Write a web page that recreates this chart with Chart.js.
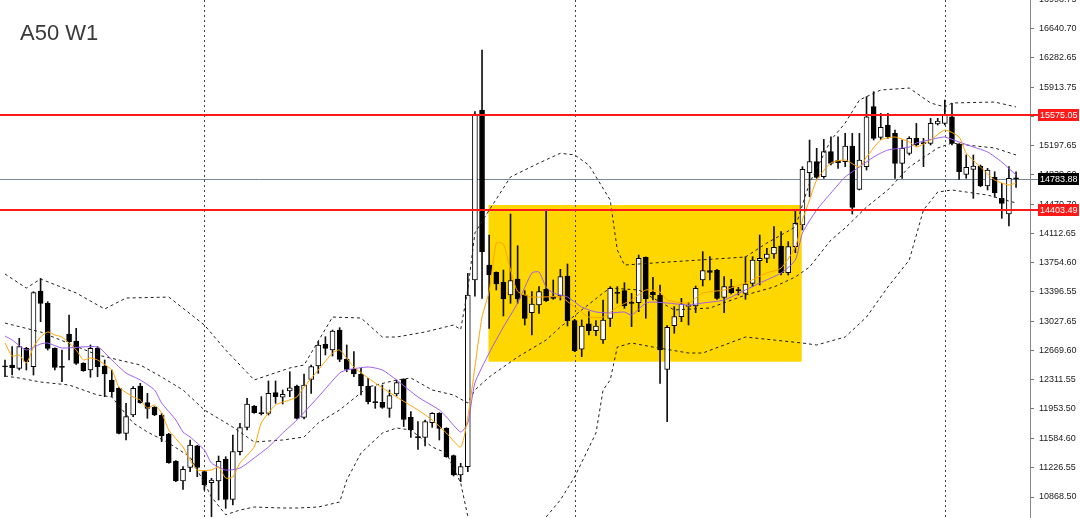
<!DOCTYPE html>
<html>
<head>
<meta charset="utf-8">
<script src="https://cdn.jsdelivr.net/npm/chart.js@4.4.1/dist/chart.umd.min.js"></script>
<style>
  html, body { margin: 0; padding: 0; background: #fff; }
  canvas { display: block; }
</style>
</head>
<body>
<canvas id="chart" width="1080" height="518"></canvas>
<script>
// weekly candles, index 0 = oldest visible bar
const opens = [12480,12494,12452,12699,12473,13404,13253,12699,12475,12875,
  12789,12514,12432,12699,12481,12309,12206,11652,11878,12235,
  12030,11972,11878,11644,11308,11066,11234,11497,11181,11045,
  11066,11332,10840,11427,11726,11989,11905,11899,12153,12096,
  12173,12235,11849,12317,12481,12748,12678,12924,12567,12444,
  12383,12235,12036,12034,11960,12137,12317,11849,11606,11603,
  11784,11899,11714,11378,11140,11242,13540,15633,13725,13634,
  13511,13355,13552,13355,13138,13232,13425,13335,13343,13589,
  13040,12687,12999,12916,12802,13068,13380,13409,13257,13261,
  13819,13388,13355,12440,12978,13089,13216,13220,13540,13655,
  13663,13327,13458,13417,13376,13499,13778,13806,13860,13958,
  13630,13950,14217,14861,14997,14812,15120,15009,14997,15189,
  14656,14935,15674,15296,15448,15345,14976,15099,15284,15222,
  15222,15460,15468,15550,15214,14841,14902,14943,14697,14804,
  14545,14352,14790];
const highs = [12555,12719,12822,12711,13396,13560,13273,12705,12678,13109,
  12945,12522,12740,12719,12555,12432,12215,12022,12227,12268,
  12145,11981,11899,11652,11316,11242,11570,11505,11193,11099,
  11373,11365,11632,11775,12083,11995,12104,12297,12297,12186,
  12411,12247,12383,12494,12781,12842,12924,12953,12740,12658,
  12452,12329,12227,12247,12186,12309,12325,11919,11796,11817,
  11907,11907,11722,11386,11283,13622,15612,16371,14094,13640,
  13663,14352,13962,13409,13396,13458,14402,13540,13671,13737,
  13056,13048,13150,13040,13294,13458,13458,13507,13376,13847,
  13825,13573,13478,12978,13212,13314,13261,13466,13889,13827,
  13671,13581,13548,13450,13827,13827,14094,13930,14197,14135,
  14012,14393,14935,15263,15161,15271,15304,15304,15345,15345,
  15345,15797,15858,15591,15591,15386,15263,15304,15468,15284,
  15530,15530,15755,15714,15220,15079,15079,14955,14914,14873,
  14730,14935,14873];
const lows = [12350,12370,12432,12432,12370,13027,12678,12432,12288,12555,
  12500,12416,12342,12350,12104,12104,11644,11570,11858,12022,
  11837,11870,11550,11283,11058,10963,11181,11119,10955,10627,
  10832,10729,10770,11386,11693,11899,11878,11878,12022,12013,
  12104,11829,11829,12145,12391,12617,12604,12535,12411,12350,
  12124,12013,11960,11960,11849,12112,11735,11603,11455,11496,
  11726,11570,11357,11127,11057,11180,13340,13314,12945,13417,
  13097,13253,13253,12986,12863,13130,13273,13302,13294,12974,
  12658,12596,12863,12855,12760,12966,13253,13191,12966,13150,
  13068,13294,12268,11796,12884,13027,12986,13138,13466,13540,
  13302,13138,13368,13355,13302,13458,13478,13753,13806,13601,
  13601,13876,14155,14566,14791,14791,14956,14914,14935,14352,
  14648,14894,15263,15271,15284,14791,14791,15079,15189,14935,
  15202,15448,15448,15202,14779,14791,14545,14689,14648,14558,
  14299,14205,14681];
const closes = [12470,12461,12719,12535,13384,13253,12699,12465,12465,12781,
  12514,12424,12699,12473,12383,12165,11652,11858,12206,12030,
  11960,11878,11624,11291,11066,11209,11509,11234,11016,11078,
  11308,10840,11427,11722,12013,11907,11895,12145,12104,12132,
  12214,11837,12247,12473,12740,12699,12912,12563,12440,12383,
  12235,12042,12030,11972,12116,12276,11825,11694,11600,11796,
  11899,11714,11365,11140,11242,13355,15583,13889,13602,13491,
  13306,13532,13306,13068,13245,13396,13286,13314,13581,13040,
  12670,12974,12916,12974,13048,13437,13375,13224,13253,13806,
  13310,13355,12678,12957,13089,13245,13224,13437,13655,13634,
  13314,13458,13384,13409,13491,13786,13806,13860,13942,13630,
  13950,14237,14902,14997,14804,15120,14976,14984,15189,14434,
  15017,15550,15284,15419,15304,14976,15161,15284,15202,15218,
  15468,15497,15571,15222,14873,14927,14943,14697,14894,14615,
  14484,14791,14784];

// indicator lines: [bar index, price]
const maFast = [[0,12764],[1,12604],[2,12616],[3,12518],[4,12715],[5,12838],[6,12900],[7,12863],[8,12838],[10,12678],
  [11,12555],[12,12580],[13,12555],[15,12432],[16,12223],[18,12100],[19,12063],[20,11964],[21,12001],[22,11903],
  [23,11693],[25,11484],[26,11324],[27,11201],[29,11201],[30,11238],[31,11102],[32,11115],[33,11287],[35,11484],
  [36,11780],[38,12001],[40,12063],[41,12100],[42,12223],[44,12432],[46,12641],[47,12678],[49,12469],[52,12272],
  [55,12100],[58,11940],[60,11816],[62,11656],[64,11484],[65,11853],[66,12469],[67,13084],[68,13401],[69,13995],
  [70,13983],[71,13663],[72,13401],[74,13330],[78,13330],[80,13207],[82,13084],[84,13084],[86,13207],[88,13294],
  [90,13417],[92,13392],[93,13294],[96,13257],[98,13380],[101,13417],[104,13503],[107,13626],[109,13687],[111,13946],
  [112,14278],[113,14525],[114,14771],[116,14980],[118,15017],[120,14931],[121,15054],[123,15263],[125,15300],[127,15239],
  [128,15177],[130,15263],[132,15386],[134,15300],[135,15103],[137,14931],[139,14771],[141,14709],[142,14734]];
const maSlow = [[0,12850],[1,12801],[3,12678],[5,12752],[6,12764],[8,12703],[13,12715],[15,12555],[17,12395],[19,12309],
  [21,12186],[22,12026],[24,11816],[25,11669],[26,11607],[28,11447],[29,11287],[31,11201],[33,11225],[35,11349],
  [37,11484],[39,11656],[41,11816],[44,12100],[47,12395],[48,12432],[51,12469],[53,12432],[55,12309],[58,12100],
  [61,11940],[62,11853],[64,11669],[65,11779],[66,12272],[68,12641],[70,12961],[72,13257],[74,13626],[75,13638],
  [76,13454],[77,13380],[79,13330],[81,13207],[83,13146],[85,13134],[87,13146],[88,13109],[90,13257],[91,13269],
  [93,13257],[96,13232],[98,13257],[101,13294],[104,13417],[106,13503],[109,13626],[111,13786],[112,14118],[114,14402],
  [116,14611],[118,14808],[120,14931],[122,15054],[124,15140],[127,15177],[128,15226],[131,15288],[132,15300],[134,15239],
  [136,15177],[138,15116],[140,14992],[142,14832]];
const bbUpper = [[0,13614],[3,13441],[5,13552],[10,13380],[14,13183],[17,13318],[23,13330],[28,12986],[31,12678],[35,12309],
  [40,12457],[42,12493],[46,13084],[50,13072],[53,12838],[55,12838],[59,12900],[63,12986],[64,12930],[65,13420],
  [66,14120],[68,14400],[71,14808],[75,14980],[78,15100],[80,15080],[82,14955],[85,14525],[86,13909],[87,13724],
  [91,13749],[104,13823],[107,13995],[111,14192],[113,14734],[116,15263],[118,15472],[120,15756],[123,15879],[127,15903],
  [130,15719],[132,15670],[133,15719],[139,15731],[142,15670]];
const bbMiddle = [[0,13010],[5,12900],[13,12617],[19,12493],[22,12346],[25,12186],[28,11940],[32,11730],[35,11546],[39,11570],
  [42,11607],[44,11780],[47,11940],[51,12223],[55,12309],[57,12334],[60,12186],[63,12124],[65,12026],[66,12186],
  [68,12346],[72,12592],[76,12801],[78,12961],[81,13171],[84,13380],[85,13441],[89,13417],[94,13171],[99,13195],
  [104,13355],[108,13454],[111,13577],[113,13700],[116,14032],[118,14180],[121,14438],[124,14648],[127,14931],[131,15165],
  [133,15226],[135,15202],[139,15165],[142,15079]];
const bbLower = [[0,12358],[2,12333],[5,12284],[9,12247],[13,12124],[15,12100],[18,11780],[20,11669],[23,11533],[26,11361],
  [28,11041],[29,10868],[31,10650],[33,10708],[35,10745],[39,10733],[41,10733],[44,10745],[47,10807],[48,11078],
  [50,11410],[53,11656],[55,11718],[57,11693],[60,11484],[62,11410],[64,11041],[65,10630],[66,10250],[68,10290],
  [72,10380],[76,10622],[78,10832],[80,11115],[83,11656],[84,12186],[85,12309],[86,12715],[88,12764],[91,12715],
  [96,12641],[98,12641],[104,12838],[112,12764],[114,12740],[118,12838],[121,13084],[124,13454],[127,13786],[129,14402],
  [131,14623],[133,14648],[135,14623],[138,14586],[142,14488]];

const priceTicks = [16998.75,16640.70,16282.65,15913.75,15555.70,15197.65,14839.60,14470.70,14112.65,
  13754.60,13396.55,13027.65,12669.60,12311.55,11953.50,11584.60,11226.55,10868.50];
const resistance = 15575.05;
const support = 14403.49;
const bid = 14783.88;
const yearStarts = [28, 80, 132];
const zoneBars = [67.9, 111.9];
const zonePrices = [12534, 14463];
const chartTitle = "A50 W1";

const pts = arr => arr.map(([i, p]) => ({ x: i, y: p }));
const bull = i => closes[i] >= opens[i];
const labelFont = '9px "Liberation Sans", Arial, sans-serif';

const overlay = {
  id: "overlay",
  beforeDatasetsDraw(chart) {
    const { ctx, chartArea: a, scales: { x, y } } = chart;
    ctx.save();
    ctx.fillStyle = "#FFD700";
    const x1 = x.getPixelForValue(zoneBars[0]), x2 = x.getPixelForValue(zoneBars[1]);
    const y1 = y.getPixelForValue(zonePrices[1]), y2 = y.getPixelForValue(zonePrices[0]);
    ctx.fillRect(x1, y1, x2 - x1, y2 - y1);
    ctx.strokeStyle = "#444";
    ctx.lineWidth = 1;
    ctx.setLineDash([2, 3]);
    yearStarts.forEach(i => {
      const px = Math.round(x.getPixelForValue(i)) + 0.5;
      ctx.beginPath(); ctx.moveTo(px, a.top); ctx.lineTo(px, a.bottom); ctx.stroke();
    });
    ctx.setLineDash([]);
    ctx.strokeStyle = "#778899";
    const by = Math.round(y.getPixelForValue(bid)) + 0.5;
    ctx.beginPath(); ctx.moveTo(a.left, by); ctx.lineTo(a.right + 8, by); ctx.stroke();
    ctx.restore();
  },
  afterDatasetsDraw(chart) {
    const { ctx, chartArea: a, scales: { y } } = chart;
    ctx.save();
    ctx.strokeStyle = "#FF1A1A";
    ctx.lineWidth = 2;
    [resistance, support].forEach(v => {
      const py = Math.round(y.getPixelForValue(v));
      ctx.beginPath(); ctx.moveTo(a.left, py); ctx.lineTo(a.right + 10, py); ctx.stroke();
    });
    ctx.restore();
  },
  afterDraw(chart) {
    const { ctx, chartArea: a, scales: { y } } = chart;
    ctx.save();
    ctx.font = labelFont;
    ctx.textBaseline = "middle";
    [[resistance, "#FF1A1A"], [bid, "#000"], [support, "#FF1A1A"]].forEach(([v, c]) => {
      const py = Math.round(y.getPixelForValue(v));
      ctx.fillStyle = c;
      ctx.fillRect(a.right + 8, py - 6, 41, 12);
      ctx.fillStyle = "#fff";
      ctx.fillText(v.toFixed(2), a.right + 10, py + 0.5);
    });
    ctx.fillStyle = "#3a3a3a";
    ctx.font = '22px "Liberation Sans", Arial, sans-serif';
    ctx.textBaseline = "alphabetic";
    ctx.fillText(chartTitle, 20, 40);
    ctx.restore();
  }
};

const bandStyle = { type: "line", borderColor: "#222", borderWidth: 1, borderDash: [3, 3],
  pointRadius: 0, tension: 0, order: 1 };

new Chart(document.getElementById("chart"), {
  type: "bar",
  data: {
    datasets: [
      { type: "line", data: pts(maFast), borderColor: "#FFA500", borderWidth: 1, pointRadius: 0, tension: 0.2, order: 0 },
      { type: "line", data: pts(maSlow), borderColor: "#9B5CF0", borderWidth: 1, pointRadius: 0, tension: 0.2, order: 0 },
      { ...bandStyle, data: pts(bbUpper) },
      { ...bandStyle, data: pts(bbMiddle) },
      { ...bandStyle, data: pts(bbLower) },
      {
        data: closes.map((c, i) => ({ x: i, y: [opens[i], c] })),
        backgroundColor: ctx => bull(ctx.dataIndex) ? "#fff" : "#000",
        borderColor: "#000",
        borderWidth: 1,
        borderSkipped: false,
        barThickness: 5,
        minBarLength: 1,
        grouped: false,
        order: 2
      },
      {
        data: closes.map((c, i) => ({ x: i, y: [lows[i], highs[i]] })),
        backgroundColor: "#111",
        borderWidth: 0,
        barThickness: 1,
        grouped: false,
        order: 3
      }
    ]
  },
  options: {
    responsive: false,
    animation: false,
    layout: { padding: 0 },
    plugins: { legend: { display: false }, tooltip: { enabled: false }, title: { display: false } },
    scales: {
      x: { type: "linear", min: -0.702, max: 143.96, offset: false, display: false },
      y: {
        position: "right",
        min: 10610,
        max: 16987,
        afterBuildTicks: s => { s.ticks = priceTicks.map(v => ({ value: v })); },
        afterFit: s => { s.width = 50; s.paddingTop = 0; s.paddingBottom = 0; },
        grid: { drawOnChartArea: false, drawTicks: true, tickLength: 4, tickColor: "#777" },
        border: { display: true, color: "#888", width: 1 },
        ticks: {
          autoSkip: false,
          padding: 5,
          color: "#222",
          font: { family: '"Liberation Sans", Arial, sans-serif', size: 9 },
          callback: v => Number(v).toFixed(2)
        }
      }
    }
  },
  plugins: [overlay]
});
</script>
</body>
</html>
